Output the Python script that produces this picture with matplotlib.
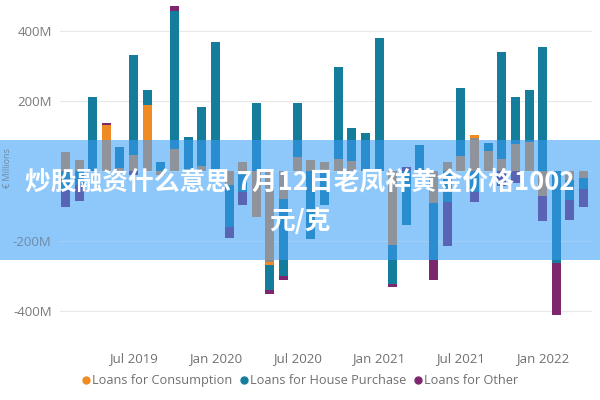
import numpy as np
import pandas as pd
import matplotlib
matplotlib.use("Agg")
from matplotlib import pyplot as plt
from matplotlib.patches import Rectangle
from matplotlib.lines import Line2D

# monthly net flows, EUR millions (Feb 2019 .. Apr 2022)
months = pd.date_range("2019-02-01", "2022-04-01", freq="MS")
gray_other = [54, 31, 0, 88, 8, 46, 88, -10, 62, 0, 13, 0, -40, 26, -131, -260, -80, 40, 30, 26,
              34, 28, 0, 0, -210, 0, 0, -91, 26, 43, 95, 57, 34, 77, 83, -71, 0, -25, -20]
consumption = [0, 0, 0, 43, 0, 0, 100, 0, 0, 0, 0, 0, 0, 0, 0, -8, 0, 0, 0, 0,
               0, 0, 0, 0, 0, 0, 0, 0, 0, 0, 8, 0, 0, 0, 0, 0, 0, 0, 0]
house_purchase = [-54, -40, 211, 0, 60, 285, 43, 26, 394, 97, 170, 369, -120, -60, 194, -71, -220, 154, -194, -97,
                  263, 95, 109, 380, -114, -154, 74, -163, -89, 194, -60, 23, 306, 134, 148, 354, -263, -57, -30]
other = [-50, -46, 0, 6, 0, -12, 0, 0, 14, 0, 0, 0, -31, -37, 0, -11, -10, 0, 0, 0,
         0, 0, 0, 0, -6, 12, 0, -57, -126, 0, -29, 0, -43, -33, 0, -71, -149, -57, -53]

tick_months = ["2019-07", "2020-01", "2020-07", "2021-01", "2021-07", "2022-01"]
tick_labels = ["Jul 2019", "Jan 2020", "Jul 2020", "Jan 2021", "Jul 2021", "Jan 2022"]
y_ticks = [-400, -200, 0, 200, 400]
y_labels = ["-400M", "-200M", "0M", "200M", "400M"]
legend_names = ["Loans for Consumption", "Loans for House Purchase", "Loans for Other"]

title_1 = "炒股融资什么意思 7月12日老凤祥黄金价格1002"
title_2 = "元/克"

colors = ["#8c8c8c", "#f08a24", "#147d9b", "#7d286e"]
tinted = ["#8e939c", "#d59a78", "#2a8dcf", "#5a64b4"]
banner_color = "#8ec8fa"
CJK = ["Noto Sans CJK SC", "DejaVu Sans"]


def stack_bars(ax, x, series, cols):
    pos = np.zeros(len(x))
    neg = np.zeros(len(x))
    for vals, c in zip(series, cols):
        vals = np.asarray(vals, dtype=float)
        bottom = np.where(vals >= 0, pos, neg)
        ax.bar(x, vals, width=0.66, bottom=bottom, color=c, linewidth=0, zorder=2)
        pos += np.clip(vals, 0, None)
        neg += np.clip(vals, None, 0)


def style_axes(ax, labels, label_color, grid_color):
    for s in ax.spines.values():
        s.set_visible(False)
    ax.set_yticks(y_ticks)
    ax.set_yticklabels(labels)
    ax.tick_params(axis="y", length=0, pad=6, labelsize=9.5, labelcolor=label_color)
    ax.tick_params(axis="x", length=0, pad=16, labelsize=9.5, labelcolor="#707070")
    ax.grid(axis="y", color=grid_color, linewidth=0.8, zorder=0)
    ax.set_axisbelow(True)


def main():
    plt.rcParams["font.family"] = ["Open Sans", "DejaVu Sans"]
    fig = plt.figure(figsize=(6, 4), dpi=100)

    x = np.arange(len(months))
    series = [gray_other, consumption, house_purchase, other]
    month_keys = list(months.strftime("%Y-%m"))
    tick_pos = [month_keys.index(m) for m in tick_months]

    left, width = 0.10, 0.887
    bottom, height = 0.175, 0.8125
    ylim = (-454, 474)
    xlim = (-0.4, len(x) - 0.37)

    # banner band (0.35..0.65 of the height) hides the labels behind it
    b_lo, b_hi = 0.35, 0.65

    ax = fig.add_axes([left, bottom, width, height])
    stack_bars(ax, x, series, colors)
    style_axes(ax, [lab if abs(t) == 400 or t == 200 else "" for t, lab in zip(y_ticks, y_labels)],
               "#7a7a7a", "#e8e8e8")
    ax.set_xticks(tick_pos)
    ax.set_xticklabels(tick_labels)
    ax.set_xlim(*xlim)
    ax.set_ylim(*ylim)

    fig.add_artist(Rectangle((0, b_lo), 1, b_hi - b_lo, transform=fig.transFigure,
                             facecolor=banner_color, edgecolor="none", zorder=1))

    # tinted copy of the bars that shows through the banner
    to_data = lambda f: ylim[0] + (f - bottom) / height * (ylim[1] - ylim[0])
    ax2 = fig.add_axes([left, b_lo, width, b_hi - b_lo])
    ax2.set_zorder(2)
    ax2.patch.set_visible(False)
    stack_bars(ax2, x, series, tinted)
    style_axes(ax2, [lab if t == -200 else "" for t, lab in zip(y_ticks, y_labels)],
               "#6f8aa6", "#9dcffa")
    ax2.set_xticks([])
    ax2.set_xlim(*xlim)
    ax2.set_ylim(to_data(b_lo), to_data(b_hi))

    fig.text(0.012, 0.58, "€ Millions", rotation=90, ha="center", va="center",
             fontsize=6.5, color="#6f8aa6", zorder=3)

    fig.text(0.5, 1 - 182 / 400, title_1, ha="center", va="center", fontsize=18.5,
             fontweight="bold", color="white", family=CJK, zorder=4)
    fig.text(0.5, 1 - 221 / 400, title_2, ha="center", va="center", fontsize=18.5,
             fontweight="bold", color="white", family=CJK, zorder=4)

    handles = [Line2D([], [], marker="o", linestyle="none", markersize=5, color=c)
               for c in colors[1:]]
    fig.legend(handles, legend_names, loc="center", bbox_to_anchor=(0.5, 0.048), ncol=3,
               frameon=False, fontsize=9.2, labelcolor="#707070", handlelength=0.6,
               handletextpad=0.2, columnspacing=0.6, borderaxespad=0)

    fig.savefig("out.png", dpi=100)


if __name__ == "__main__":
    main()
